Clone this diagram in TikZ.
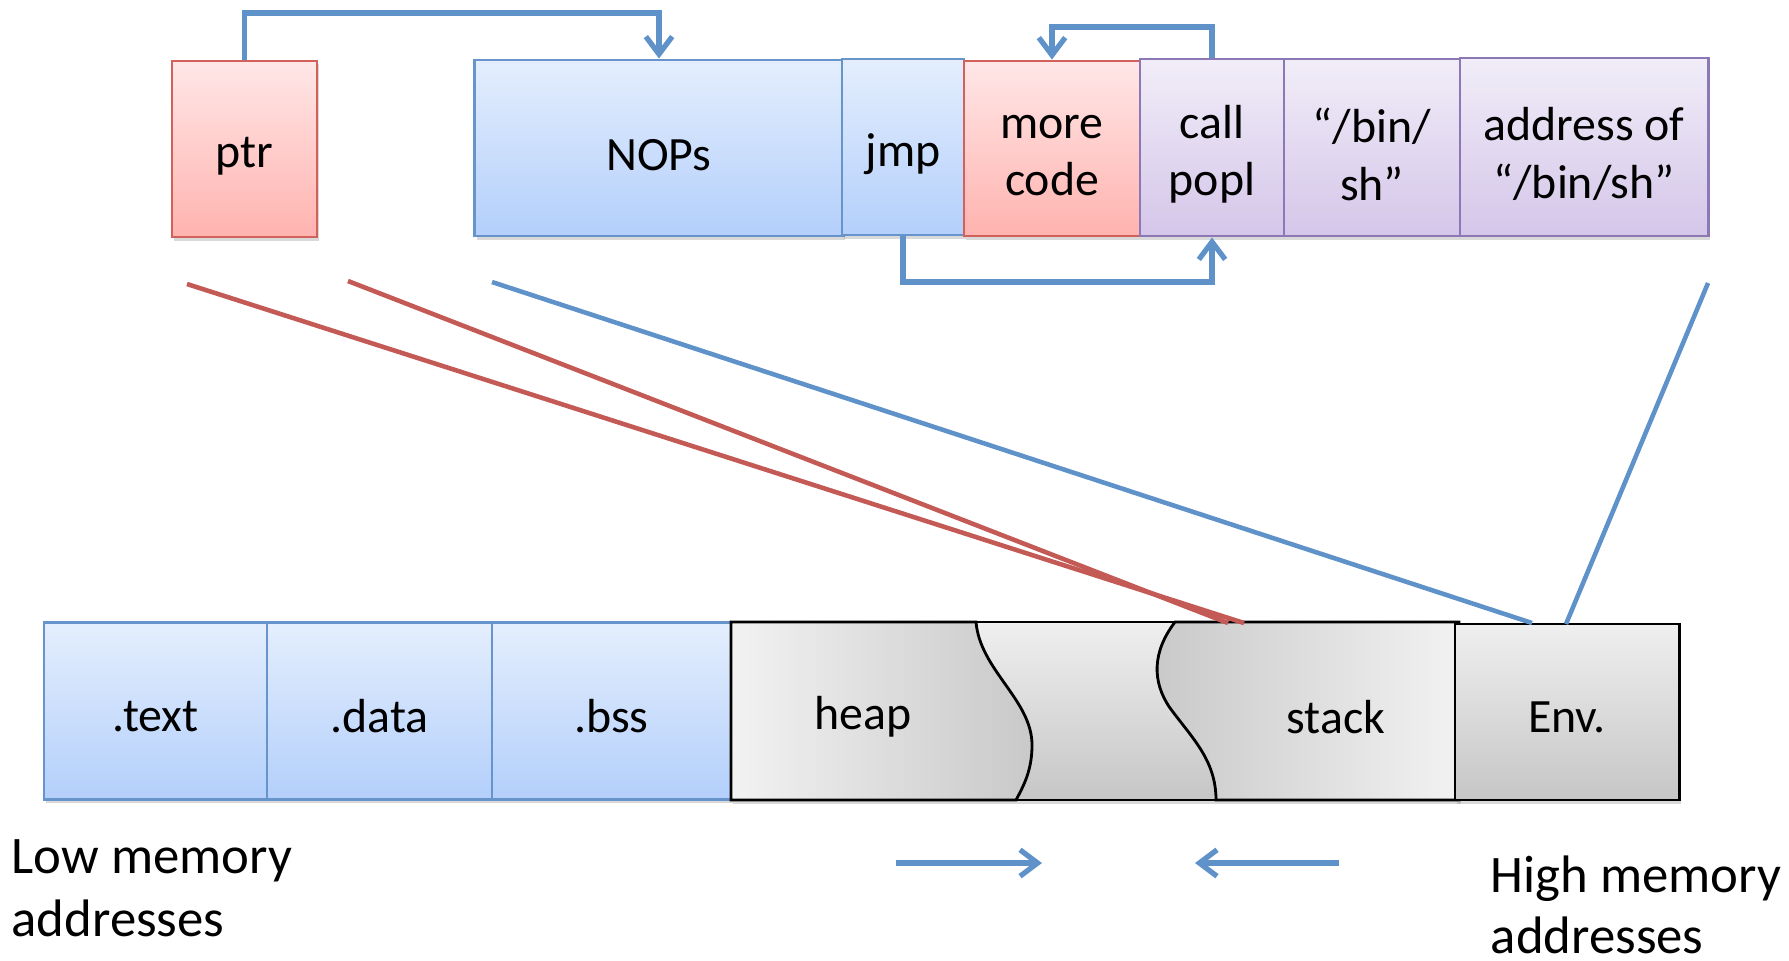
\documentclass[tikz,border=0pt]{standalone}
\usepackage{fontspec}
\setmainfont{Carlito}
\usetikzlibrary{arrows.meta,shadows}
\definecolor{btop}{HTML}{E4EEFD}
\definecolor{bbot}{HTML}{B3CFFB}
\definecolor{bline}{HTML}{6794CB}
\definecolor{rtop}{HTML}{FFE7E7}
\definecolor{rbot}{HTML}{FFB3AF}
\definecolor{rline}{HTML}{D2615B}
\definecolor{ptop}{HTML}{F1EDF8}
\definecolor{pbot}{HTML}{D4C6E9}
\definecolor{pline}{HTML}{8C78B4}
\definecolor{gtop}{HTML}{EFEFEF}
\definecolor{gbot}{HTML}{C6C6C6}
\definecolor{glight}{HTML}{F2F2F2}
\definecolor{gdark}{HTML}{C9C9C9}
\definecolor{cblue}{HTML}{5E92C9}
\definecolor{cred}{HTML}{C45A55}
\newcommand\boxfont{\fontsize{13.6}{16.3}\selectfont}
\newcommand\labfont{\fontsize{15}{18}\selectfont}
\begin{document}
\begin{tikzpicture}[x=0.01cm,y=-0.01cm,
  box/.style={draw, line width=0.8pt, inner sep=0pt,
    drop shadow={shadow xshift=0.6pt, shadow yshift=-1pt, opacity=0.3}},
  boxlab/.style={inner sep=0pt, align=center, font=\boxfont, yshift=-2pt},
  boxlabl/.style={inner sep=0pt, align=center, font=\boxfont, yshift=-1.5pt},
  bluebox/.style={box, draw=bline, top color=btop, bottom color=bbot, label={[boxlab]center:#1}},
  blueboxl/.style={box, draw=bline, top color=btop, bottom color=bbot, label={[boxlabl]center:#1}},
  redbox/.style={box, draw=rline, top color=rtop, bottom color=rbot, label={[boxlab]center:#1}},
  purplebox/.style={box, draw=pline, top color=ptop, bottom color=pbot, label={[boxlab]center:#1}},
  greybox/.style={box, draw=black, top color=gtop, bottom color=gbot, label={[boxlabl]center:#1}},
  conn/.style={draw=cblue, line width=1.5pt, -{Straight Barb[length=5pt,width=7.5pt]}},
  diagblue/.style={draw=cblue, line width=1.3pt},
  diagred/.style={draw=cred, line width=1.3pt},
  lab/.style={inner sep=0pt, font=\labfont, anchor=base west},
  txt/.style={inner sep=0pt, font=\boxfont}
]
\useasboundingbox (0,0) rectangle (1789,960);

% top row
\node[redbox={ptr}, minimum width=1.45cm, minimum height=1.76cm] (ptr) at (244.5,149) {};
\node[bluebox={NOPs}, minimum width=3.68cm, minimum height=1.76cm] (nops) at (659,148) {};
\node[bluebox={jmp}, minimum width=1.22cm, minimum height=1.76cm] (jmp) at (903,147) {};
\node[redbox={more\\code}, minimum width=1.76cm, minimum height=1.75cm] (more) at (1052,148.5) {};
\node[purplebox={call\\popl}, minimum width=1.44cm, minimum height=1.77cm] (call) at (1212,147.5) {};
\node[purplebox={“/bin/\\sh”}, minimum width=1.76cm, minimum height=1.77cm] (binsh) at (1372,147.5) {};
\node[purplebox={address of\\“/bin/sh”}, minimum width=2.48cm, minimum height=1.78cm] (addr) at (1584,147) {};

% top connectors
\coordinate (top1) at (0,13);
\coordinate (top2) at (0,27);
\coordinate (bot1) at (0,282);
\draw[conn] (ptr.north) |- (top1 -| nops.north) -- (nops.north);
\draw[conn] (call.north) |- (top2 -| more.north) -- (more.north);
\draw[conn] (jmp.south) |- (bot1 -| call.south) -- (call.south);

% bottom row
\node[blueboxl={.text}, minimum width=2.23cm, minimum height=1.77cm] (text) at (155.5,711) {};
\node[blueboxl={.data}, minimum width=2.25cm, minimum height=1.77cm] (data) at (379.5,711) {};
\node[blueboxl={.bss}, minimum width=2.39cm, minimum height=1.77cm] (bss) at (611.5,711) {};

\draw[line width=0.8pt, top color=gtop, bottom color=gbot,
  drop shadow={shadow xshift=0.6pt, shadow yshift=-1pt, opacity=0.3}]
  (731,622) rectangle (1459,800);
\draw[line width=0.8pt, left color=glight, right color=gdark]
  (731,622) -- (976,622) .. controls (980,670) and (1032,700) .. (1032,745)
  .. controls (1032,770) and (1024,785) .. (1016,800) -- (731,800) -- cycle;
\draw[line width=0.8pt, left color=gdark, right color=glight]
  (1175,622) .. controls (1152,652) and (1152,682) .. (1170,708)
  .. controls (1192,738) and (1216,760) .. (1216,800) -- (1459,800) -- (1459,622) -- cycle;
\node[txt] (heap) at (863,717) {heap};
\node[txt] (stack) at (1336,717) {stack};

\node[greybox={Env.}, minimum width=2.24cm, minimum height=1.76cm] (env) at (1567,712) {};

% diagonal lines
\coordinate (r1s) at (187,284);
\coordinate (r1e) at (1244,623);
\coordinate (r2s) at (348,281);
\coordinate (r2e) at (1228,623);
\coordinate (b1s) at (492,282);
\coordinate (b1e) at (1532,623);
\coordinate (b2s) at (1708,283);
\coordinate (b2e) at (1566,624);
\draw[diagred] (r1s) -- (r1e);
\draw[diagred] (r2s) -- (r2e);
\draw[diagblue] (b1s) -- (b1e);
\draw[diagblue] (b2s) -- (b2e);

% growth arrows
\coordinate (ha1) at (896,863);
\coordinate (ha2) at (1042,863);
\coordinate (sa1) at (1339,863);
\coordinate (sa2) at (1195,863);
\draw[conn] (ha1) -- (ha2);
\draw[conn] (sa1) -- (sa2);

% labels
\node[lab] (low1) at (11,873) {Low memory};
\node[lab] (low2) at (11,936) {addresses};
\node[lab] (high1) at (1490,892) {High memory};
\node[lab] (high2) at (1490,953) {addresses};
\end{tikzpicture}
\end{document}
